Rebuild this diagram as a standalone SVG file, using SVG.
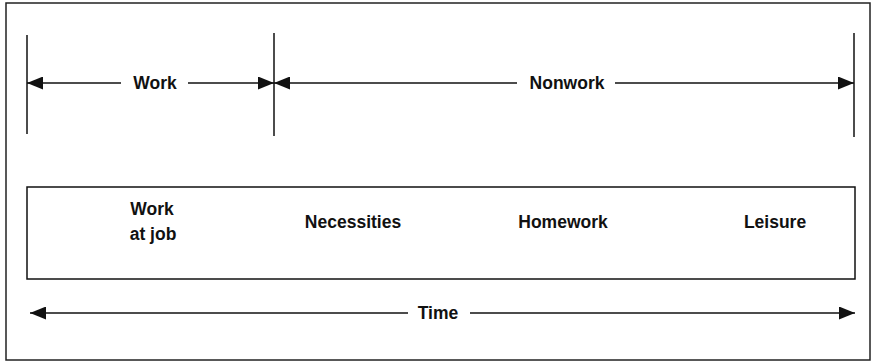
<svg xmlns="http://www.w3.org/2000/svg" width="877" height="363" viewBox="0 0 877 363">
<defs>
<marker id="ah" viewBox="0 0 16 13" refX="16" refY="6.5" markerWidth="16" markerHeight="13" markerUnits="userSpaceOnUse" orient="auto">
<path d="M0,0 L16,6.5 L0,13 Z" fill="#111"/>
</marker>
<style>
.ln{stroke:#111;stroke-width:1.5;fill:none}
.fr{stroke:#222;stroke-width:1.5;fill:none}
.t{font-family:"Liberation Sans",Arial,sans-serif;font-weight:bold;font-size:17.5px;fill:#111;text-anchor:middle}
</style>
</defs>
<rect class="fr" x="6" y="3" width="864" height="357"/>
<g id="connectors">
<line class="ln" x1="27" y1="35" x2="27" y2="134"/>
<line class="ln" x1="274" y1="33" x2="274" y2="136"/>
<line class="ln" x1="854" y1="33" x2="854" y2="137"/>
<line class="ln" x1="121" y1="83" x2="27" y2="83" marker-end="url(#ah)"/>
<line class="ln" x1="188" y1="83" x2="274" y2="83" marker-end="url(#ah)"/>
<line class="ln" x1="517" y1="83" x2="274" y2="83" marker-end="url(#ah)"/>
<line class="ln" x1="615" y1="83" x2="854" y2="83" marker-end="url(#ah)"/>
<line class="ln" x1="408" y1="313" x2="30" y2="313" marker-end="url(#ah)"/>
<line class="ln" x1="470" y1="313" x2="855" y2="313" marker-end="url(#ah)"/>
</g>
<g id="work-label"><text class="t" x="155" y="89">Work</text></g>
<g id="nonwork-label"><text class="t" x="567" y="89">Nonwork</text></g>
<g id="activities">
<rect class="ln" x="27" y="187" width="828" height="92"/>
</g>
<g id="work-at-job"><text class="t" x="152" y="215">Work</text><text class="t" x="153" y="240">at job</text></g>
<g id="necessities"><text class="t" x="353" y="228">Necessities</text></g>
<g id="homework"><text class="t" x="563" y="228">Homework</text></g>
<g id="leisure"><text class="t" x="775" y="228">Leisure</text></g>
<g id="time-label"><text class="t" x="438" y="319">Time</text></g>
</svg>
